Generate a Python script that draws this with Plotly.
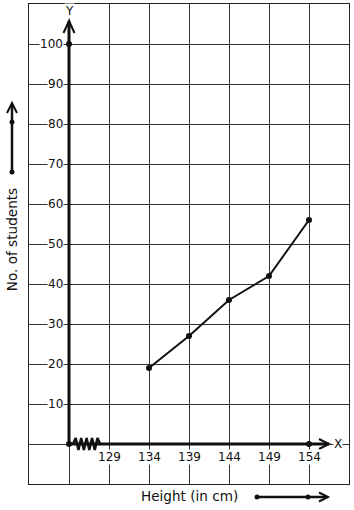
import plotly.graph_objects as go
import numpy as np

# Data
heights = [134, 139, 144, 149, 154]
students = [19, 27, 36, 42, 56]
x_tick_vals = [129, 134, 139, 144, 149, 154]
y_tick_vals = [10, 20, 30, 40, 50, 60, 70, 80, 90, 100]
x_title = "Height (in cm)"
y_title = "No. of students"

X0, X1 = 119, 159
Y0, Y1 = -10, 110
ORIGIN_X = 124
FONT = "DejaVu Sans"
INK = "#111111"

fig = go.Figure()

# zigzag kink on x-axis (axis break)
zx = np.linspace(124.5, 127.9, 11)
zy = [0 if i in (0, 10) else (1.5 if i % 2 else -1.5) for i in range(11)]
fig.add_trace(go.Scatter(x=zx, y=zy, mode="lines", line=dict(color=INK, width=2.5),
                         hoverinfo="skip", showlegend=False))

# axes (thick)
fig.add_shape(type="line", x0=ORIGIN_X, y0=0, x1=156.5, y1=0, line=dict(color=INK, width=3), layer="above")
fig.add_shape(type="line", x0=ORIGIN_X, y0=0, x1=ORIGIN_X, y1=105.75, line=dict(color=INK, width=3), layer="above")
# arrowheads on axes
fig.add_shape(type="path", path="M 155.25 1.25 L 156.5 0 L 155.25 -1.25",
              line=dict(color=INK, width=2), layer="above")
fig.add_shape(type="path", path="M 123.31 102.75 L 124 105.75 L 124.69 102.75",
              line=dict(color=INK, width=2), layer="above")

# data line
fig.add_trace(go.Scatter(x=heights, y=students, mode="lines+markers",
                         line=dict(color=INK, width=2),
                         marker=dict(color=INK, size=6),
                         hoverinfo="skip", showlegend=False))
# axis dots
fig.add_trace(go.Scatter(x=[ORIGIN_X, ORIGIN_X, heights[-1]], y=[100, 0, 0], mode="markers",
                         marker=dict(color=INK, size=6), cliponaxis=False,
                         hoverinfo="skip", showlegend=False))

annotations = []
for v in y_tick_vals:
    annotations.append(dict(x=ORIGIN_X, y=v, xref="x", yref="y", text=str(v), showarrow=False,
                            xanchor="right", yanchor="middle", xshift=-5,
                            bgcolor="white", borderpad=0,
                            font=dict(family=FONT, size=12, color="#111")))
for v in x_tick_vals:
    annotations.append(dict(x=v, y=0, xref="x", yref="y", text=str(v), showarrow=False,
                            xanchor="center", yanchor="middle", yshift=-13,
                            bgcolor="white", borderpad=0,
                            font=dict(family=FONT, size=12, color="#111")))
annotations.append(dict(x=ORIGIN_X, y=108.25, xref="x", yref="y", text="Y", showarrow=False,
                        xanchor="center", yanchor="middle", bgcolor="white", borderpad=0,
                        font=dict(family=FONT, size=12, color="#111")))
annotations.append(dict(x=157.6, y=0, xref="x", yref="y", text="X", showarrow=False,
                        xanchor="center", yanchor="middle", bgcolor="white", borderpad=0,
                        font=dict(family=FONT, size=12, color="#111")))
annotations.append(dict(x=-0.053, y=0.508, xref="paper", yref="paper", text=y_title, showarrow=False,
                        textangle=-90, xanchor="center", yanchor="middle",
                        font=dict(family=FONT, size=13.6, color="#111")))
annotations.append(dict(x=0.503, y=-0.026, xref="paper", yref="paper", text=x_title, showarrow=False,
                        xanchor="center", yanchor="middle",
                        font=dict(family=FONT, size=13.6, color="#111")))

# title arrows outside plot (paper coords)
def px(p):
    return (p - 29) / 320.0
def py(p):
    return (484 - p) / 480.0

shapes_extra = [
    dict(type="line", xref="paper", yref="paper", x0=px(12), y0=py(172), x1=px(12), y1=py(104),
         line=dict(color=INK, width=2.5)),
    dict(type="path", xref="paper", yref="paper",
         path=f"M {px(7)} {py(113)} L {px(12)} {py(103)} L {px(17)} {py(113)}",
         line=dict(color=INK, width=2)),
    dict(type="circle", xref="paper", yref="paper", x0=px(9.5), x1=px(14.5), y0=py(119.5), y1=py(124.5),
         fillcolor=INK, line=dict(color=INK, width=0)),
    dict(type="circle", xref="paper", yref="paper", x0=px(9.5), x1=px(14.5), y0=py(169.5), y1=py(174.5),
         fillcolor=INK, line=dict(color=INK, width=0)),
    dict(type="line", xref="paper", yref="paper", x0=px(257), y0=py(497), x1=px(327), y1=py(497),
         line=dict(color=INK, width=2.5)),
    dict(type="path", xref="paper", yref="paper",
         path=f"M {px(319)} {py(492.5)} L {px(328)} {py(497)} L {px(319)} {py(501.5)}",
         line=dict(color=INK, width=2)),
    dict(type="circle", xref="paper", yref="paper", x0=px(254.5), x1=px(259.5), y0=py(494.5), y1=py(499.5),
         fillcolor=INK, line=dict(color=INK, width=0)),
    dict(type="circle", xref="paper", yref="paper", x0=px(305.5), x1=px(310.5), y0=py(494.5), y1=py(499.5),
         fillcolor=INK, line=dict(color=INK, width=0)),
]
for s in shapes_extra:
    fig.add_shape(**s)

fig.update_layout(
    width=354, height=510,
    margin=dict(l=29, r=5, t=4, b=26),
    paper_bgcolor="white", plot_bgcolor="white",
    showlegend=False,
    annotations=annotations,
    xaxis=dict(range=[X0, X1], tick0=X0, dtick=5, showticklabels=False, ticks="",
               showgrid=True, gridcolor="#333333", gridwidth=1, zeroline=False,
               showline=True, linecolor="#222222", linewidth=1, mirror=True, fixedrange=True),
    yaxis=dict(range=[Y0, Y1], tick0=Y0, dtick=10, showticklabels=False, ticks="",
               showgrid=True, gridcolor="#333333", gridwidth=1, zeroline=False,
               showline=True, linecolor="#222222", linewidth=1, mirror=True, fixedrange=True),
)

fig.write_html("out.html")
